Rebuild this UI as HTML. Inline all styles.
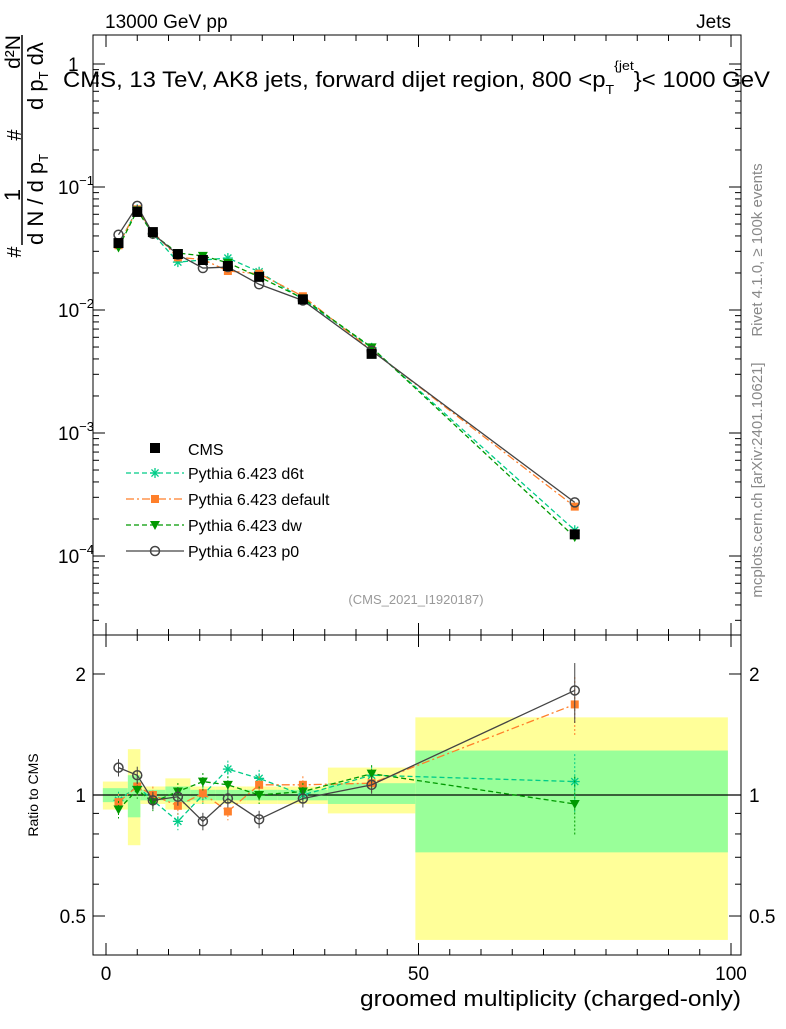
<!DOCTYPE html>
<html><head><meta charset="utf-8"><style>body{margin:0;background:#fff}svg{font-family:"Liberation Sans",sans-serif}</style></head><body>
<svg id="c" width="786" height="1024" viewBox="0 0 786 1024">
<g id="bands"></g><g id="grid"></g><g id="marks"></g>
<text x="105" y="28" font-size="19">13000 GeV pp</text>
<text x="731" y="28" font-size="19" text-anchor="end">Jets</text>
<text x="63" y="87" font-size="22" textLength="707" lengthAdjust="spacingAndGlyphs">CMS, 13 TeV, AK8 jets, forward dijet region, 800 &lt;p<tspan font-size="13" dy="7">T</tspan><tspan font-size="13" dy="-24">{jet</tspan><tspan dy="17">}&lt; 1000 GeV</tspan></text>
<text x="416" y="604" font-size="13" fill="#999" text-anchor="middle">(CMS_2021_I1920187)</text>
<text transform="translate(762,250) rotate(-90)" font-size="15" fill="#888" text-anchor="middle">Rivet 4.1.0, ≥ 100k events</text>
<text transform="translate(762,480) rotate(-90)" font-size="15" fill="#888" text-anchor="middle">mcplots.cern.ch [arXiv:2401.10621]</text>
<g>
<text transform="translate(20,195) rotate(-90)" font-size="22" text-anchor="middle">1</text>
<text transform="translate(21,252) rotate(-90)" font-size="20" text-anchor="middle">#</text>
<text transform="translate(21,135) rotate(-90)" font-size="20" text-anchor="middle">#</text>
<text transform="translate(20,52) rotate(-90)" font-size="21" text-anchor="middle">d²N</text>
<line x1="22" x2="22" y1="35" y2="245" stroke="#000" stroke-width="1.5"/>
<text transform="translate(43,245) rotate(-90)" font-size="22">d N / d p<tspan font-size="13" dy="5">T</tspan></text>
<text transform="translate(43,110) rotate(-90)" font-size="22">d p<tspan font-size="13" dy="5">T</tspan><tspan dy="-5"> dλ</tspan></text>
</g>
<text transform="translate(38,795) rotate(-90)" font-size="14" text-anchor="middle">Ratio to CMS</text>
<text x="741" y="1006" font-size="22" text-anchor="end" textLength="381" lengthAdjust="spacingAndGlyphs">groomed multiplicity (charged-only)</text>
<g id="legend"></g>
</svg>
<script>
const xs=[2,5,7.5,11.5,15.5,19.5,24.5,31.5,42.5,75];
const cms=[0.035,0.0627,0.043,0.0285,0.0255,0.0228,0.0186,0.0122,0.0044,0.00015];
const rD6t=[0.97,1.05,0.97,0.86,1.0,1.16,1.10,1.0,1.12,1.08];
const rDef=[0.96,1.05,1.0,0.94,1.01,0.91,1.06,1.06,1.07,1.68];
const rDw=[0.92,1.03,0.96,1.02,1.08,1.06,1.0,1.02,1.13,0.95];
const rP0=[1.17,1.12,0.97,0.99,0.86,0.98,0.87,0.98,1.06,1.82];
const binEdges=[-0.5,3.5,5.5,9.5,13.5,17.5,22.5,27.5,35.5,49.5,99.5];
const yelLo=[0.92,0.75,0.95,0.92,0.95,0.95,0.95,0.95,0.9,0.436];
const yelHi=[1.08,1.30,1.05,1.10,1.05,1.05,1.05,1.05,1.17,1.56];
const grnLo=[0.96,0.88,0.97,0.96,0.97,0.97,0.97,0.97,0.95,0.72];
const grnHi=[1.04,1.12,1.03,1.05,1.03,1.03,1.03,1.03,1.07,1.29];
const X=v=>106+6.25*v, Y=v=>64-123*Math.log10(v), R=v=>795-402*Math.log10(v);
const NS="http://www.w3.org/2000/svg";
function mk(p,t,a){const e=document.createElementNS(NS,t);for(const k in a)e.setAttribute(k,a[k]);p.appendChild(e);return e;}
const bands=document.getElementById('bands'),grid=document.getElementById('grid'),marks=document.getElementById('marks');
for(let i=0;i<yelLo.length;i++){
 const x0=X(binEdges[i]),x1=X(binEdges[i+1]);
 let r=mk(bands,'rect',{x:x0,y:R(yelHi[i]),width:x1-x0,height:R(yelLo[i])-R(yelHi[i]),fill:'#ffff99'});
 
 
 r=mk(bands,'rect',{x:x0,y:R(grnHi[i]),width:x1-x0,height:R(grnLo[i])-R(grnHi[i]),fill:'#99ff99'});
 
 
}
mk(grid,'rect',{x:93,y:35,width:648,height:600,fill:'none',stroke:'#000','stroke-width':1});
mk(grid,'rect',{x:93,y:635,width:648,height:320,fill:'none',stroke:'#000','stroke-width':1});
mk(grid,'line',{x1:93,x2:741,y1:R(1),y2:R(1),stroke:'#000','stroke-width':1.3});
for(let e=-5;e<=0;e++){for(let m=1;m<10;m++){const v=m*Math.pow(10,e),y=Y(v);if(y<35||y>635)continue;const L=m==1?12:6;
 mk(grid,'line',{x1:93,x2:93+L,y1:y,y2:y,stroke:'#000'});mk(grid,'line',{x1:741,x2:741-L,y1:y,y2:y,stroke:'#000'});}}
const mainTickVals=[-1,-2,-3,-4];
mainTickVals.forEach((e,i)=>{const t=mk(grid,'text',{x:58,y:Y(Math.pow(10,e))+7,'font-size':19});t.textContent='10';
 const s=mk(t,'tspan',{dy:-9,'font-size':13});s.textContent='−'+(-e);
 
 });
let t1=mk(grid,'text',{x:68,y:Y(1)+7,'font-size':19});t1.textContent='1';
[0.5,0.6,0.7,0.8,0.9,1,2].forEach(v=>{const y=R(v);const L=(v==0.5||v==1||v==2)?12:6;
 mk(grid,'line',{x1:93,x2:93+L,y1:y,y2:y,stroke:'#000'});mk(grid,'line',{x1:741,x2:741-L,y1:y,y2:y,stroke:'#000'});});
const rTicks=['0.5','1','2'],rTickVals=[0.5,1,2];
rTickVals.forEach((v,i)=>{[[86,'end'],[749,'start']].forEach(([x,a])=>{const t=mk(grid,'text',{x:x,y:R(v)+7,'font-size':19,'text-anchor':a});t.textContent=rTicks[i];
 
 });});
for(let v=0;v<=100;v+=5){const x=X(v),L=v%50==0?12:6;
 [[635,-1],[955,-1],[35,1],[635,1]].forEach(([y,d])=>mk(grid,'line',{x1:x,x2:x,y1:y,y2:y+d*L,stroke:'#000'}));}
const xTicks=['0','50','100'],xTickVals=[0,50,100];
xTickVals.forEach((v,i)=>{const t=mk(grid,'text',{x:X(v),y:980,'font-size':19,'text-anchor':'middle'});t.textContent=xTicks[i];
 
 });
function marker(g,type,x,y,c){
 if(type=='sq')mk(g,'rect',{x:x-5,y:y-5,width:10,height:10,fill:c});
 else if(type=='osq')mk(g,'rect',{x:x-4,y:y-4,width:8,height:8,fill:c});
 else if(type=='tri')mk(g,'path',{d:`M${x-5},${y-4}L${x+5},${y-4}L${x},${y+5}Z`,fill:c});
 else if(type=='circ')mk(g,'circle',{cx:x,cy:y,r:4.5,fill:'none',stroke:c,'stroke-width':1.5});
 else if(type=='star'){for(let a=0;a<4;a++){const an=a*Math.PI/4;mk(g,'line',{x1:x-5*Math.cos(an),y1:y-5*Math.sin(an),x2:x+5*Math.cos(an),y2:y+5*Math.sin(an),stroke:c,'stroke-width':1.3});}}
}
const series=[
 {name:'d6t',r:rD6t,c:'#00cc88',dash:'5,3',m:'star',lab:'Pythia 6.423 d6t'},
 {name:'default',r:rDef,c:'#ff7f2a',dash:'8,3,2,3',m:'osq',lab:'Pythia 6.423 default'},
 {name:'dw',r:rDw,c:'#009900',dash:'5,3',m:'tri',lab:'Pythia 6.423 dw'},
 {name:'p0',r:rP0,c:'#444',dash:'',m:'circ',lab:'Pythia 6.423 p0'}];
series.forEach(s=>{
 const g=mk(marks,'g',{});
 
 
 const vals=cms.map((v,i)=>v*s.r[i]);
 mk(g,'polyline',{points:xs.map((x,i)=>X(x)+','+Y(vals[i])).join(' '),fill:'none',stroke:s.c,'stroke-width':1.3,'stroke-dasharray':s.dash});
 mk(g,'polyline',{points:xs.map((x,i)=>X(x)+','+R(s.r[i])).join(' '),fill:'none',stroke:s.c,'stroke-width':1.3,'stroke-dasharray':s.dash});
 xs.forEach((x,i)=>{const e=i==9?0.17:0.05;
  mk(g,'line',{x1:X(x),x2:X(x),y1:R(s.r[i]*(1+e)),y2:R(s.r[i]*(1-e)),stroke:s.c,'stroke-dasharray':s.dash?'2,2':''});
  marker(g,s.m,X(x),Y(vals[i]),s.c);marker(g,s.m,X(x),R(s.r[i]),s.c);});
});
const gc=mk(marks,'g',{});


xs.forEach((x,i)=>marker(gc,'sq',X(x),Y(cms[i]),'#000'));
const leg=document.getElementById('legend');
const lsq=mk(leg,'g',{});marker(lsq,'sq',155,448,'#000');
let lt=mk(leg,'text',{x:188,y:455,'font-size':16});lt.textContent='CMS';


series.forEach((s,i)=>{const y=473+26*i;
 mk(leg,'line',{x1:126,x2:184,y1:y,y2:y,stroke:s.c,'stroke-width':1.3,'stroke-dasharray':s.dash});
 marker(leg,s.m,155,y,s.c);
 const t=mk(leg,'text',{x:188,y:y+6,'font-size':16});t.textContent=s.lab;
 
 });
</script>
</body></html>
